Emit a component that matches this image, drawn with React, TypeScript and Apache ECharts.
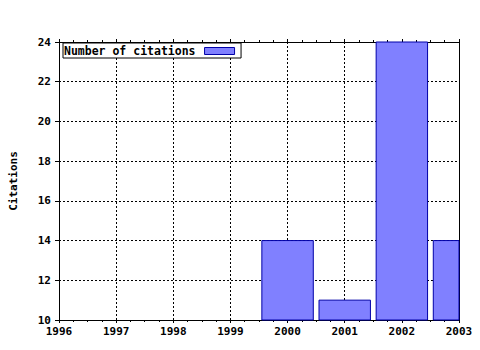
import React, { useEffect, useRef } from "react";
import * as echarts from "echarts";

const years = [2000, 2001, 2002, 2003];
const citations = [14, 11, 24, 14];
const seriesName = "Number of citations";
const yAxisTitle = "Citations";
const xMin = 1996;
const xMax = 2003;
const yMin = 10;
const yMax = 24;

const FONT = "'DejaVu Sans Mono', 'Liberation Mono', monospace";

export default function App() {
  const ref = useRef<HTMLDivElement>(null);
  useEffect(() => {
    document.body.style.margin = "0";
    const chart = echarts.init(ref.current!, null, { renderer: "svg" });
    const labelStyle = { fontFamily: FONT, fontWeight: "bold" as const, fontSize: 11, color: "#000" };
    const axisLine = { show: true, lineStyle: { color: "#000", width: 1 } };
    const barFill = "#8080ff";
    const barStroke = "#0000a8";
    chart.setOption({
      animation: false,
      backgroundColor: "#fff",
      grid: { left: 57, top: 42, width: 402, height: 278, containLabel: false },
      legend: {
        left: 63,
        top: 43,
        data: [seriesName],
        align: "right",
        icon: "rect",
        itemWidth: 30,
        itemHeight: 7,
        padding: [2, 6, 1, 1],
        borderColor: "#000",
        borderWidth: 1,
        backgroundColor: "#fff",
        itemStyle: { color: barFill, borderColor: barStroke, borderWidth: 1 },
        textStyle: { ...labelStyle, fontSize: 11.5, padding: [0, 4, 0, 0] },
      },
      xAxis: [
        {
          type: "value",
          min: xMin,
          max: xMax,
          interval: 1,
          axisLine,
          axisTick: { show: true, inside: false, length: 3, lineStyle: { color: "#000" } },
          minorTick: { show: true, splitNumber: 4, length: 2, lineStyle: { color: "#000" } },
          splitLine: { show: true, lineStyle: { color: "#000", type: [2, 2], width: 1 } },
          axisLabel: { ...labelStyle, margin: 6, formatter: (v: number) => String(v) },
        },
        {
          type: "value",
          position: "top",
          min: xMin,
          max: xMax,
          interval: 1,
          axisLine,
          axisTick: { show: true, inside: false, length: 3, lineStyle: { color: "#000" } },
          minorTick: { show: true, splitNumber: 4, length: 2, lineStyle: { color: "#000" } },
          splitLine: { show: false },
          axisLabel: { show: false },
        },
      ],
      yAxis: [
        {
          type: "value",
          min: yMin,
          max: yMax,
          interval: 2,
          name: yAxisTitle,
          nameLocation: "middle",
          nameGap: 40,
          nameTextStyle: { ...labelStyle },
          axisLine,
          axisTick: { show: true, inside: false, length: 4, lineStyle: { color: "#000" } },
          splitLine: { show: true, lineStyle: { color: "#000", type: [2, 2], width: 1 } },
          axisLabel: { ...labelStyle, margin: 8 },
        },
        {
          type: "value",
          position: "right",
          min: yMin,
          max: yMax,
          interval: 2,
          axisLine,
          axisTick: { show: false },
          splitLine: { show: false },
          axisLabel: { show: false },
        },
      ],
      series: [
        {
          name: seriesName,
          type: "custom",
          xAxisIndex: 0,
          yAxisIndex: 0,
          data: years.map((y, i) => [y, citations[i]]),
          itemStyle: { color: barFill, borderColor: barStroke, borderWidth: 1 },
          renderItem: (params: any, api: any) => {
            const x = api.value(0);
            const v = api.value(1);
            const top = api.coord([x, v]);
            const base = api.coord([x, yMin]);
            const w = api.size([1, 0])[0] * 0.9;
            const cs = params.coordSys;
            const shape = echarts.graphic.clipRectByRect(
              { x: top[0] - w / 2, y: top[1], width: w, height: base[1] - top[1] },
              { x: cs.x, y: cs.y, width: cs.width, height: cs.height }
            );
            if (!shape) return null;
            return {
              type: "rect",
              shape,
              style: { fill: barFill, stroke: barStroke, lineWidth: 1 },
            };
          },
        },
      ],
    });
    return () => chart.dispose();
  }, []);
  return <div ref={ref} style={{ width: 480, height: 350 }} />;
}
